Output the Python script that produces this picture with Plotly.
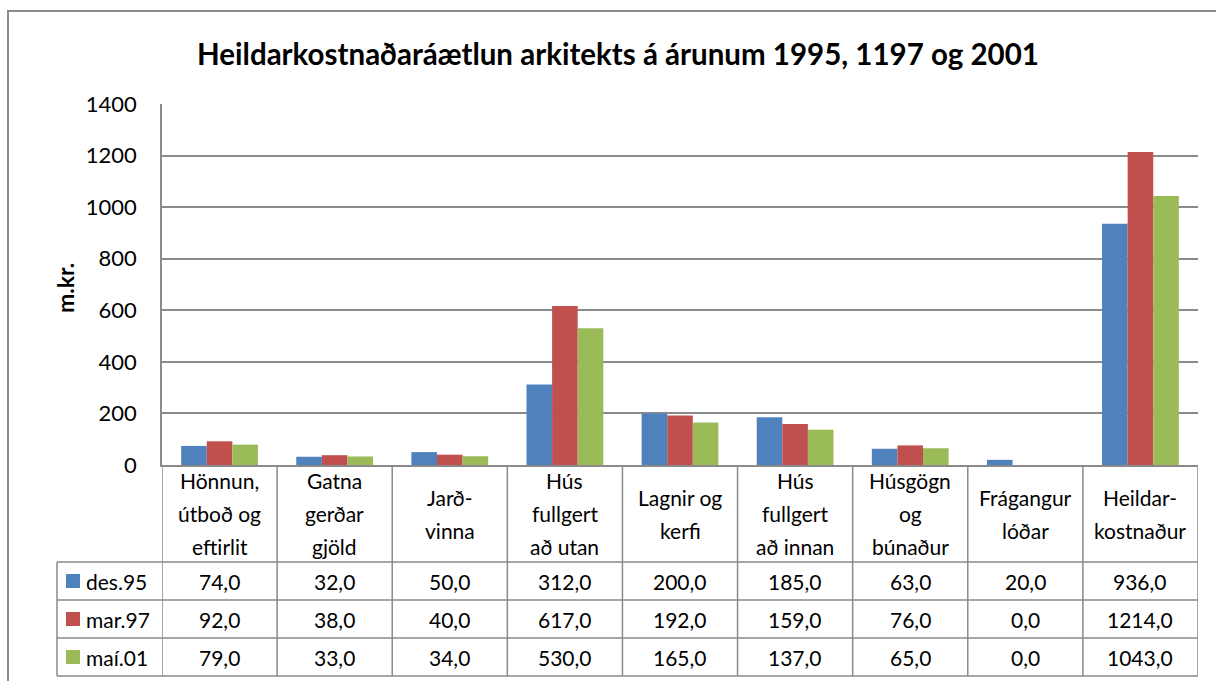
import plotly.graph_objects as go

# ---------------- data ----------------
categories = ["Hönnun, útboð og eftirlit", "Gatnagerðargjöld", "Jarðvinna",
              "Hús fullgert að utan", "Lagnir og kerfi", "Hús fullgert að innan",
              "Húsgögn og búnaður", "Frágangur lóðar", "Heildarkostnaður"]
header_lines = [["Hönnun,", "útboð og", "eftirlit"],
                ["Gatna", "gerðar", "gjöld"],
                ["Jarð-", "vinna"],
                ["Hús", "fullgert", "að utan"],
                ["Lagnir og", "kerfi"],
                ["Hús", "fullgert", "að innan"],
                ["Húsgögn", "og", "búnaður"],
                ["Frágangur", "lóðar"],
                ["Heildar-", "kostnaður"]]
series_names = ["des.95", "mar.97", "maí.01"]
des95 = [74, 32, 50, 312, 200, 185, 63, 20, 936]
mar97 = [92, 38, 40, 617, 192, 159, 76, 0, 1214]
mai01 = [79, 33, 34, 530, 165, 137, 65, 0, 1043]
series_values = [des95, mar97, mai01]
colors = ["#4F81BD", "#C0504D", "#9BBB59"]
y_ticks = [0, 200, 400, 600, 800, 1000, 1200, 1400]

title = "Heildarkostnaðaráætlun arkitekts á árunum 1995, 1197 og 2001"
y_title = "m.kr."

# ---------------- layout geometry ----------------
W, H = 1216, 681
L, R, T, B = 162, 1198, 104, 465  # plot area in pixels
FONT = "Lato"
GRID = "#8a8a8a"


def px2x(px):
    return (px - L) / (R - L)


def px2y(py):
    return (B - py) / (B - T)


n = len(categories)
x_idx = list(range(n))

fig = go.Figure()
for name, vals, col in zip(series_names, series_values, colors):
    fig.add_trace(go.Bar(x=x_idx, y=vals, name=name, marker_color=col,
                         marker_line_width=0, showlegend=False))

shapes = []
annotations = []

# table row boundaries (pixels)
row_tops = [562, 600, 638, 676]
header_top = B

# vertical lines at category boundaries
for i in range(n + 1):
    shapes.append(dict(type="line", xref="x", yref="paper",
                       x0=i - 0.5, x1=i - 0.5, y0=px2y(header_top), y1=px2y(row_tops[-1]),
                       line=dict(color=GRID, width=1.5)))
# legend column left border
shapes.append(dict(type="line", xref="paper", yref="paper",
                   x0=px2x(57), x1=px2x(57), y0=px2y(row_tops[0]), y1=px2y(row_tops[-1]),
                   line=dict(color=GRID, width=1.5)))
# horizontal lines
for ry in row_tops:
    shapes.append(dict(type="line", xref="paper", yref="paper",
                       x0=px2x(57), x1=1, y0=px2y(ry), y1=px2y(ry),
                       line=dict(color=GRID, width=1.5)))

# outer chart border
shapes.append(dict(type="rect", xref="paper", yref="paper",
                   x0=px2x(8), x1=px2x(1230), y0=px2y(11), y1=px2y(700),
                   line=dict(color="#8a8a8a", width=2), fillcolor="rgba(0,0,0,0)",
                   layer="below"))

# header labels
line_h = 33
hdr_center = (header_top + row_tops[0]) / 2
for i, lines in enumerate(header_lines):
    k = len(lines)
    for j, txt in enumerate(lines):
        cy = hdr_center + (j - (k - 1) / 2) * line_h
        annotations.append(dict(x=i, y=px2y(cy), xref="x", yref="paper", text=txt,
                                showarrow=False, xanchor="center", yanchor="middle",
                                font=dict(family=FONT, size=21, color="black")))

# data rows
for r, (name, vals, col) in enumerate(zip(series_names, series_values, colors)):
    cy = (row_tops[r] + row_tops[r + 1]) / 2
    for i, v in enumerate(vals):
        annotations.append(dict(x=i, y=px2y(cy), xref="x", yref="paper",
                                text=f"{v:.1f}".replace(".", ","),
                                showarrow=False, xanchor="center", yanchor="middle",
                                font=dict(family=FONT, size=21, color="black")))
    # legend key
    shapes.append(dict(type="rect", xref="paper", yref="paper",
                       x0=px2x(66), x1=px2x(80), y0=px2y(cy - 7), y1=px2y(cy + 7),
                       fillcolor=col, line=dict(width=0)))
    annotations.append(dict(x=px2x(84), y=px2y(cy), xref="paper", yref="paper",
                            text=name, showarrow=False, xanchor="left", yanchor="middle",
                            font=dict(family=FONT, size=21, color="black")))

# y-axis title
annotations.append(dict(x=px2x(65), y=px2y(288), xref="paper", yref="paper",
                        text=f"<b>{y_title}</b>", textangle=-90, showarrow=False,
                        xanchor="center", yanchor="middle",
                        font=dict(family=FONT, size=23, color="black")))

fig.update_layout(
    width=W, height=H,
    margin=dict(l=L, r=W - R, t=T, b=H - B, pad=0),
    paper_bgcolor="white", plot_bgcolor="white",
    barmode="group", bargap=0.333, bargroupgap=0,
    title=dict(text=f"<b>{title}</b>", x=618 / W,
               xanchor="center", y=1 - 55 / H, yanchor="middle",
               font=dict(family=FONT, size=29.5, color="black")),
    xaxis=dict(range=[-0.5, n - 0.5], showticklabels=False, showgrid=False,
               showline=True, linecolor=GRID, linewidth=1.5, zeroline=False,
               ticks="", fixedrange=True),
    yaxis=dict(range=[0, 1400], tickvals=y_ticks, showgrid=True, gridcolor=GRID,
               gridwidth=1.5, showline=True, linecolor=GRID, linewidth=1.5,
               zeroline=False, ticks="", ticklabelstandoff=19,
               tickfont=dict(family=FONT, size=22, color="black")),
    shapes=shapes, annotations=annotations,
    font=dict(family=FONT, color="black"),
)

fig.write_html("out.html",
               config={"displayModeBar": False},
               post_script="document.body.style.margin='0';"
                           "document.body.style.padding='0';"
                           "document.body.style.overflow='hidden';"
                           "document.documentElement.style.overflow='hidden';")
